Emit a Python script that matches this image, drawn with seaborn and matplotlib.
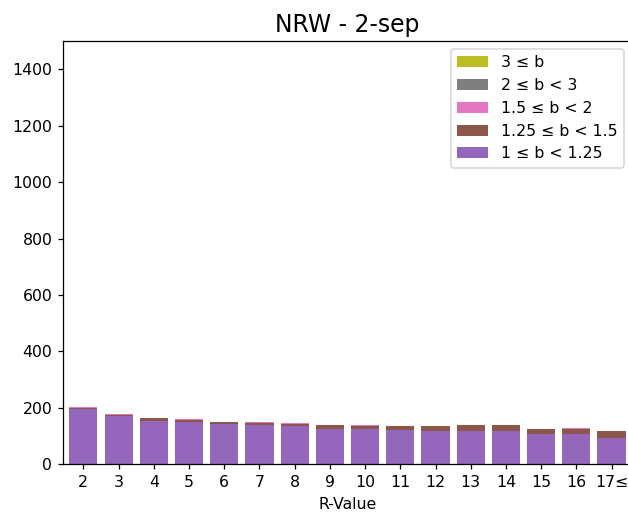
import matplotlib
matplotlib.use("Agg")
import matplotlib.pyplot as plt
import seaborn as sns
import numpy as np
import pandas as pd

categories = ["2", "3", "4", "5", "6", "7", "8", "9", "10", "11", "12", "13", "14", "15", "16", "17≤"]
b_1_125 = [195, 172, 153, 150, 142, 138, 134, 125, 125, 121, 118, 117, 117, 106, 106, 93]
b_125_15 = [5, 4, 10, 8, 9, 8, 9, 13, 10, 13, 16, 22, 22, 20, 20, 25]
b_15_2 = [3, 3, 0, 3, 0, 3, 2, 3, 3, 0, 0, 0, 0, 0, 4, 0]
b_2_3 = [0] * 16
b_3 = [0] * 16

labels = ["1 ≤ b < 1.25", "1.25 ≤ b < 1.5", "1.5 ≤ b < 2", "2 ≤ b < 3", "3 ≤ b"]
colors = ["tab:purple", "tab:brown", "tab:pink", "tab:gray", "tab:olive"]
series = [b_1_125, b_125_15, b_15_2, b_2_3, b_3]

cum = np.cumsum(np.array(series, dtype=float), axis=0)

DPI = 113
fig = plt.figure(figsize=(628 / DPI, 516 / DPI), dpi=DPI)
ax = fig.add_axes([0.1008, 0.1002, 0.905, 0.8204])

for i in range(len(series) - 1, -1, -1):
    df = pd.DataFrame({"R": categories, "v": cum[i]})
    sns.barplot(data=df, x="R", y="v", color=matplotlib.colors.to_rgba(colors[i]),
                saturation=1, width=0.8, ax=ax, label=labels[i], linewidth=0)

ax.set_ylim(0, 1500)
ax.set_yticks(range(0, 1401, 200))
ax.set_xlim(-0.57, 15.57)
ax.set_xlabel("R-Value")
ax.set_ylabel("")
ax.set_title("NRW - 2-sep", fontsize=15)
ax.legend(loc="upper right", fontsize=10)

fig.savefig("out.png", dpi=DPI)
